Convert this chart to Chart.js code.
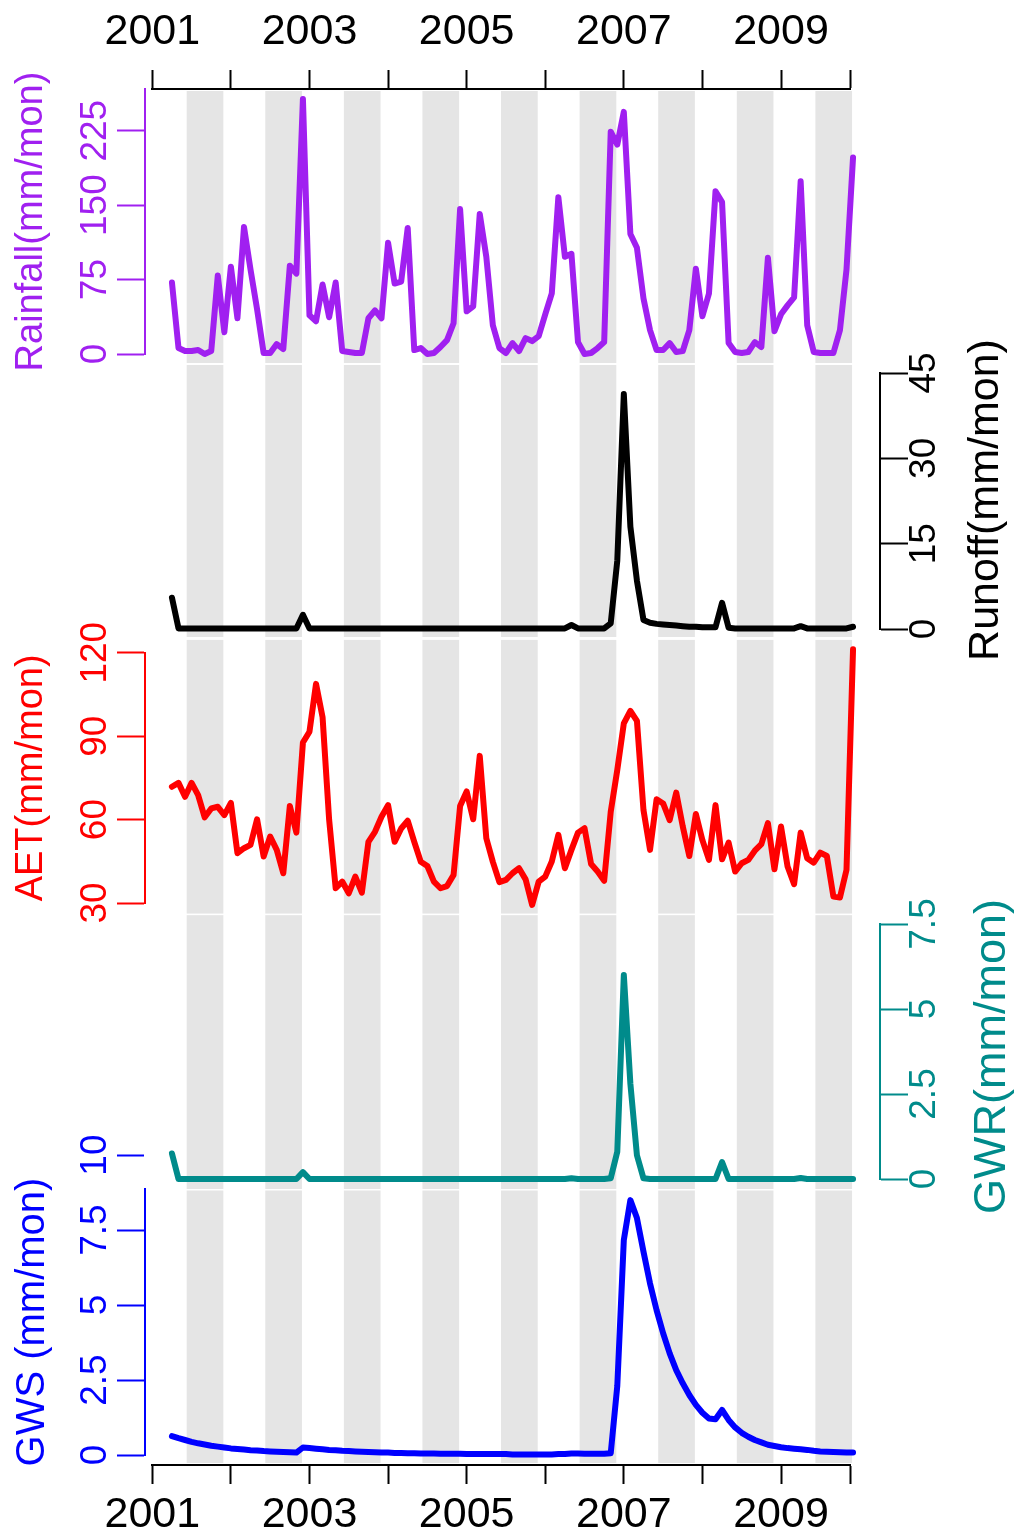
<!DOCTYPE html>
<html>
<head>
<meta charset="utf-8">
<title>Monthly water balance 2001-2009</title>
<script src="https://cdn.jsdelivr.net/npm/chart.js@4.4.1/dist/chart.umd.min.js"></script>
<style>
  html, body { margin: 0; padding: 0; background: #fff; }
  #stage { position: relative; width: 1024px; height: 1540px; }
  #stage canvas { position: absolute; left: 0; top: 0; }
</style>
</head>
<body>
<div id="stage"></div>
<script>
// ---- data: one value per month, April 2001 .. December 2009 ----
const FIRST_MONTH = 3; // months counted from January 2001

const rainfall = [
  72, 6, 3, 3, 4, 0, 3, 79, 22,                    // 2001 (Apr-Dec)
  88, 36, 128, 85, 45, 1, 1, 10, 5, 89, 81, 257,   // 2002
  39, 33, 70, 37, 72, 3, 2, 1, 1, 36, 44, 36,      // 2003
  112, 71, 73, 127, 4, 6, 0, 1, 7, 14, 31, 146,    // 2004
  43, 48, 141, 98, 29, 6, 1, 11, 3, 16, 13, 18,    // 2005
  40, 61, 158, 98, 101, 12, 0, 1, 6, 12, 224, 211, // 2006
  244, 121, 107, 56, 24, 4, 4, 11, 2, 3, 24, 86,   // 2007
  38, 61, 164, 153, 11, 2, 1, 2, 12, 7, 97, 23,    // 2008
  40, 49, 57, 174, 29, 2, 1, 1, 1, 24, 85, 198     // 2009
];

const runoff = [
  5.5, 0.1, 0.1, 0.1, 0.1, 0.1, 0.1, 0.1, 0.1,
  0.1, 0.1, 0.1, 0.1, 0.1, 0.1, 0.1, 0.1, 0.1, 0.1, 0.1, 2.5,
  0.1, 0.1, 0.1, 0.1, 0.1, 0.1, 0.1, 0.1, 0.1, 0.1, 0.1, 0.1,
  0.1, 0.1, 0.1, 0.1, 0.1, 0.1, 0.1, 0.1, 0.1, 0.1, 0.1, 0.1,
  0.1, 0.1, 0.1, 0.1, 0.1, 0.1, 0.1, 0.1, 0.1, 0.1, 0.1, 0.1,
  0.1, 0.1, 0.1, 0.1, 0.7, 0.1, 0.1, 0.1, 0.1, 0.1, 1.0, 12,
  41.3, 18, 8.5, 1.6, 1.1, 0.9, 0.8, 0.7, 0.6, 0.5, 0.4, 0.4,
  0.3, 0.3, 0.3, 4.6, 0.2, 0.1, 0.1, 0.1, 0.1, 0.1, 0.1, 0.1,
  0.1, 0.1, 0.1, 0.5, 0.1, 0.1, 0.1, 0.1, 0.1, 0.1, 0.1, 0.4
];

const aet = [
  71.8, 73.2, 68.2, 73.2, 68.8, 60.8, 64, 64.6, 61.6,
  66, 47.9, 49.7, 50.9, 60.1, 46.7, 53.9, 49.1, 40.7, 64.9, 55.3, 87.7,
  91.6, 108.8, 96.8, 60, 35.3, 37.7, 33.5, 39.5, 33.7, 52, 55.6, 61,
  65.2, 52, 56.8, 59.6, 52, 44.8, 43.3, 37.7, 35.3, 36.1, 40.1, 64.9,
  70.1, 60.1, 82.9, 53.3, 44.8, 37.5, 38.3, 40.7, 42.5, 38.5, 29.3, 37.7,
  39.5, 44.9, 54.5, 42.5, 49.1, 55.3, 56.9, 44, 41.3, 38, 62.8, 77.8,
  94.6, 99.1, 95.5, 63.4, 49.1, 67.3, 65.8, 59.8, 69.7, 57.5, 46.9, 62,
  52.6, 45.5, 65.2, 45.7, 51.7, 41.3, 44.3, 45.5, 48.8, 51.2, 58.7, 42.1,
  57.5, 43.1, 36.8, 55.3, 46.1, 44.5, 48.1, 46.9, 32.3, 32, 41.9, 121.2
];

const gwr = [
  0.75, 0, 0, 0, 0, 0, 0, 0, 0,
  0, 0, 0, 0, 0, 0, 0, 0, 0, 0, 0, 0.2,
  0, 0, 0, 0, 0, 0, 0, 0, 0, 0, 0, 0,
  0, 0, 0, 0, 0, 0, 0, 0, 0, 0, 0, 0,
  0, 0, 0, 0, 0, 0, 0, 0, 0, 0, 0, 0,
  0, 0, 0, 0, 0.02, 0, 0, 0, 0, 0, 0.02, 0.8,
  6.0, 2.8, 0.7, 0.02, 0, 0, 0, 0, 0, 0, 0, 0,
  0, 0, 0, 0.5, 0, 0, 0, 0, 0, 0, 0, 0,
  0, 0, 0, 0.03, 0, 0, 0, 0, 0, 0, 0, 0
];

const gws = [
  0.63, 0.56, 0.5, 0.44, 0.39, 0.35, 0.31, 0.28, 0.25,
  0.22, 0.2, 0.18, 0.16, 0.15, 0.13, 0.12, 0.11, 0.1, 0.09, 0.08, 0.25,
  0.23, 0.21, 0.19, 0.17, 0.16, 0.14, 0.13, 0.12, 0.11, 0.1, 0.09, 0.08,
  0.08, 0.07, 0.07, 0.06, 0.06, 0.05, 0.05, 0.05, 0.04, 0.04, 0.04, 0.04,
  0.03, 0.03, 0.03, 0.03, 0.03, 0.03, 0.03, 0.02, 0.02, 0.02, 0.02, 0.02,
  0.02, 0.02, 0.03, 0.03, 0.05, 0.05, 0.04, 0.04, 0.04, 0.04, 0.06, 2.3,
  7.17, 8.5, 7.9, 6.78, 5.72, 4.83, 4.06, 3.39, 2.83, 2.39, 2.0, 1.67,
  1.41, 1.22, 1.19, 1.5, 1.17, 0.92, 0.74, 0.61, 0.5, 0.42, 0.34, 0.3,
  0.26, 0.23, 0.21, 0.19, 0.17, 0.14, 0.12, 0.11, 0.1, 0.09, 0.08, 0.08
];

const months = rainfall.map((v, i) => FIRST_MONTH + i);

// time axis: a tick every January, labels on odd years, last tick at the end
const yearTicks = [0, 12, 24, 36, 48, 60, 72, 84, 96];
const yearLabels = ['2001', '', '2003', '', '2005', '', '2007', '', '2009'];
const X_END = 106.64;
const shadeFrom = 5.25;  // shaded part of every year, in months
const shadeTo = 10.85;

const rainTicks = [0, 75, 150, 225];
const runoffTicks = [0, 15, 30, 45];
const aetTicks = [30, 60, 90, 120];
const gwrTicks = [0, 2.5, 5, 7.5];
const gwsTicks = [0, 2.5, 5, 7.5, 10];

// ---- layout ----
const W = 1024, H = 1540;
const FONT = '"Liberation Sans", Arial, Helvetica, sans-serif';
const LEFT_AXIS = 145;    // x of the left axis lines
const RIGHT_AXIS = 880;   // x of the right axis lines
const X0_PX = 152.3;      // x of January 2001
const MONTH_PX = 6.549;
const xMin = (LEFT_AXIS - X0_PX) / MONTH_PX;
const xMax = (RIGHT_AXIS - X0_PX) / MONTH_PX;
const TICK_FONT = 37;

const panels = [
  { data: rainfall, color: '#A020F0', side: 'left', title: 'Rainfall(mm/mon)', titleSize: 38,
    top: 89, bottom: 354, min: 0, max: 267, ticks: rainTicks, shade: [-9.07, 265] },
  { data: runoff, color: '#000000', side: 'right', title: 'Runoff(mm/mon)', titleSize: 43,
    titleX: 986, titleShift: -1,
    top: 373, bottom: 629, min: 0, max: 45, ticks: runoffTicks, shade: [-1.41, 46.4] },
  { data: aet, color: '#FF0000', side: 'left', title: 'AET(mm/mon)', titleSize: 38,
    top: 652.7, bottom: 903, min: 30, max: 120, ticks: aetTicks, shade: [26.2, 124.6] },
  { data: gwr, color: '#008B8B', side: 'right', title: 'GWR(mm/mon)', titleSize: 45,
    titleX: 993, titleShift: 5,
    top: 924, bottom: 1179, min: 0, max: 7.5, ticks: gwrTicks, shade: [-0.294, 7.76] },
  { data: gws, color: '#0000FF', side: 'left', title: 'GWS (mm/mon)', titleSize: 40,
    top: 1189, bottom: 1455, min: 0, max: 8.87, ticks: gwsTicks, shade: [-0.267, 8.82] }
];

const stage = document.getElementById('stage');
const measureCtx = document.createElement('canvas').getContext('2d');

function newCanvas() {
  const c = document.createElement('canvas');
  c.width = W;
  c.height = H;
  stage.appendChild(c);
  return c;
}

function widestLabel(values) {
  measureCtx.font = `${TICK_FONT}px ${FONT}`;
  return Math.max(...values.map(v => measureCtx.measureText(String(v)).width));
}

// grey band for the same months of every year
const seasonShade = {
  id: 'seasonShade',
  beforeDatasetsDraw(chart, args, opts) {
    const {ctx, scales: {x, y}} = chart;
    const yTop = y.getPixelForValue(opts.hi);
    const yBot = y.getPixelForValue(opts.lo);
    ctx.save();
    ctx.fillStyle = opts.color;
    for (const m of yearTicks) {
      const x1 = x.getPixelForValue(m + shadeFrom);
      const x2 = x.getPixelForValue(m + shadeTo);
      ctx.fillRect(x1, yTop, x2 - x1, yBot - yTop);
    }
    ctx.restore();
  }
};

// right hand axis titles read bottom to top, like the left ones
const sideTitle = {
  id: 'sideTitle',
  afterDraw(chart, args, opts) {
    const {ctx} = chart;
    const s = chart.scales.y;
    ctx.save();
    ctx.translate(opts.x, (s.top + s.bottom) / 2 + opts.shift);
    ctx.rotate(-Math.PI / 2);
    ctx.font = `${opts.size}px ${FONT}`;
    ctx.fillStyle = opts.color;
    ctx.textAlign = 'center';
    ctx.textBaseline = 'middle';
    ctx.fillText(opts.text, 0, 0);
    ctx.restore();
  }
};

function panelChart(p) {
  const left = p.side === 'left';
  const tickPad = (left ? 21 : 16.5) - widestLabel(p.ticks) / 2;
  const pluginOpts = {
    legend: { display: false },
    tooltip: { enabled: false },
    seasonShade: { lo: p.shade[0], hi: p.shade[1], color: '#e5e5e5' }
  };
  if (!left) {
    pluginOpts.sideTitle = { text: p.title, x: p.titleX, shift: p.titleShift,
      size: p.titleSize, color: p.color };
  }
  new Chart(newCanvas(), {
    type: 'line',
    data: {
      labels: months,
      datasets: [{
        data: p.data,
        borderColor: p.color,
        borderWidth: 6,
        borderJoinStyle: 'round',
        borderCapStyle: 'round',
        pointRadius: 0,
        tension: 0,
        fill: false,
        clip: false
      }]
    },
    options: {
      responsive: false,
      animation: false,
      layout: {
        padding: {
          top: p.top,
          bottom: H - p.bottom,
          left: left ? 0 : LEFT_AXIS,
          right: left ? W - RIGHT_AXIS : 0
        }
      },
      plugins: pluginOpts,
      scales: {
        x: { type: 'linear', display: false, min: xMin, max: xMax },
        y: {
          type: 'linear',
          position: p.side,
          min: p.min,
          max: p.max,
          afterFit: s => { s.width = left ? LEFT_AXIS : W - RIGHT_AXIS; },
          afterBuildTicks: s => { s.ticks = p.ticks.map(v => ({ value: v })); },
          border: { color: p.color, width: 2 },
          grid: { drawOnChartArea: false, tickLength: 28, color: p.color,
                  tickColor: p.color, tickWidth: 2 },
          ticks: {
            color: p.color,
            font: { family: FONT, size: TICK_FONT },
            minRotation: 90,
            maxRotation: 90,
            crossAlign: 'center',
            padding: tickPad,
            autoSkip: false,
            callback: v => String(v)
          },
          title: {
            display: left,
            text: p.title,
            color: p.color,
            font: { family: FONT, size: p.titleSize },
            padding: { top: 9, bottom: 0 }
          }
        }
      }
    },
    plugins: left ? [seasonShade] : [seasonShade, sideTitle]
  });
}

function timeAxis(position) {
  const top = position === 'top';
  new Chart(newCanvas(), {
    type: 'line',
    data: { datasets: [] },
    options: {
      responsive: false,
      animation: false,
      layout: {
        padding: {
          left: X0_PX,
          right: W - X0_PX - X_END * MONTH_PX,
          top: top ? 0 : 1189,
          bottom: top ? H - 363 : 0
        }
      },
      plugins: { legend: { display: false }, tooltip: { enabled: false } },
      scales: {
        x: {
          type: 'linear',
          position: position,
          min: 0,
          max: X_END,
          afterFit: s => { s.height = top ? 89 : H - 1465; },
          afterBuildTicks: s => { s.ticks = [...yearTicks, X_END].map(v => ({ value: v })); },
          border: { color: '#000', width: 2 },
          grid: { drawOnChartArea: false, tickLength: 19, color: '#000',
                  tickColor: '#000', tickWidth: 2 },
          ticks: {
            color: '#000',
            font: { family: FONT, size: 43 },
            padding: top ? 12.4 : 5.3,
            minRotation: 0,
            maxRotation: 0,
            autoSkip: false,
            callback: (v, i) => yearLabels[i] || ''
          }
        },
        y: { display: false }
      }
    }
  });
}

panels.forEach(panelChart);
timeAxis('top');
timeAxis('bottom');
</script>
</body>
</html>
